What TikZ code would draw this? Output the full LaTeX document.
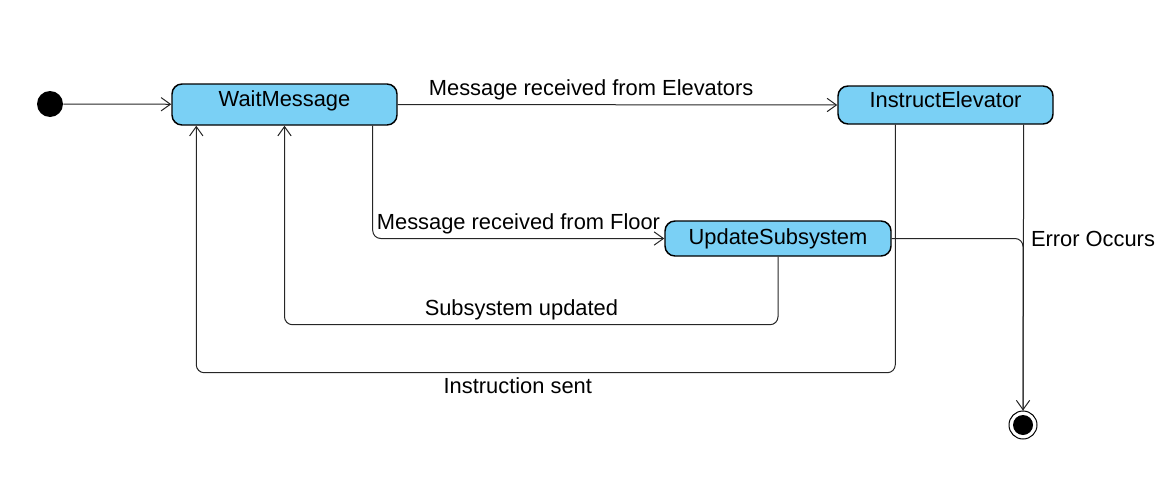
\documentclass[tikz,border=0pt]{standalone}
\usepackage{fontspec}
\setmainfont{Liberation Sans}
\usetikzlibrary{arrows.meta, calc}
\definecolor{stateblue}{RGB}{122,208,245}

\begin{document}
\begin{tikzpicture}[x=0.75pt, y=-0.75pt,
	font=\fontsize{16.4}{19.7}\selectfont,
	>={Straight Barb[length=7pt, width=10pt]},
	state/.style={draw, line width=1.1pt, fill=stateblue, rounded corners=7.5pt, inner sep=0pt},
	high/.style={text height=11.7pt, text depth=8.2pt},
	flow/.style={->, line width=0.75pt, black!85, rounded corners=6pt}]
	\useasboundingbox (0,0) rectangle (1172,482);
	
	% states
	\node (init) [circle, fill=black, minimum size=19.5pt, inner sep=0pt] at (50,104) {};
	\node (wait) [state, high, minimum width=168.75pt, minimum height=30.75pt] at (284.5,104.5) {WaitMessage};
	\node (instruct) [state, high, minimum width=161.25pt, minimum height=28.5pt] at (945.5,105) {InstructElevator};
	\node (update) [state, minimum width=169.5pt, minimum height=26.25pt] at (778,238.5) {UpdateSubsystem};
	\node (final) [circle, draw, line width=0.75pt, minimum size=21pt, inner sep=0pt] at (1023,425) {};
	\fill (final) circle (10);
	
	% transitions
	\draw [flow] (init) -- (wait);
	\draw [flow] (wait.east) -- (instruct.west) node [above, pos=0.44, black] {Message received from Elevators};
	\draw [flow] (wait.south east) ++(-25,0) |- (update.west) node [above, pos=0.75, black] {Message received from Floor};
	\draw [flow] (update.south) -- ++(0,68) -| (wait.south) node [above, pos=0.26, black] {Subsystem updated};
	\draw [flow] (instruct.south west) ++(58,0) -- ++(0,248) -| ($(wait.south west)+(25,0)$) node [below, pos=0.27, black] {Instruction sent};
	\draw [flow] (instruct.south east) ++(-30,0) -- (final.north) node [right, pos=0.4, black, xshift=2pt] {Error Occurs};
	\draw [flow, -] (update.east) -| (final.north);
\end{tikzpicture}
\end{document}
